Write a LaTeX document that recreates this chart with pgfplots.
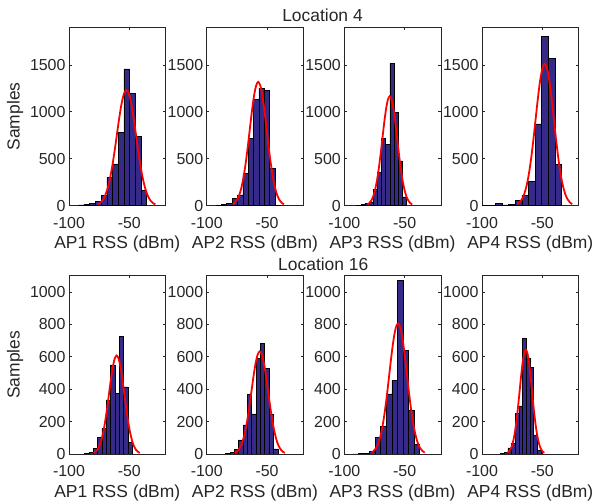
\documentclass[border=0pt]{standalone}
\usepackage{fontspec}
\setmainfont{Liberation Sans}
\usepackage{pgfplots}
\pgfplotsset{compat=1.18}
\definecolor{barblue}{RGB}{53,42,135}
\definecolor{axgray}{RGB}{38,38,38}
\pgfplotsset{
  hist/.style={
    scale only axis, width=96.5bp, height=178.4bp,
    xmin=-100, xmax=-20, ymin=0,
    xtick={-100,-50},
    tick align=inside,
    axis line style={draw=axgray, line width=0.6bp},
    every tick/.style={draw=axgray, line width=0.6bp},
    major tick length=2.5bp,
    tick label style={font=\fontsize{16}{19}\selectfont, text=axgray},
    xticklabel style={yshift=-8bp},
    label style={font=\fontsize{17.5}{21}\selectfont, text=axgray},
    xlabel style={yshift=-1bp},
    /pgf/number format/assume math mode=true,
    /pgf/number format/1000 sep={},
    scaled ticks=false,
  },
  toprow/.style={hist, ymax=1900, ytick={0,500,1000,1500}},
  botrow/.style={hist, ymax=1100, ytick={0,200,400,600,800,1000}},
  bars/.style={ybar interval, fill=barblue, draw=black, line width=0.5bp},
  fitc/.style={red, line width=1.8bp, smooth, mark=none},
}
\begin{document}
\begin{tikzpicture}[x=1bp,y=1bp]
\useasboundingbox (0,0) rectangle (594,501);
% ---------------- Location 4 ----------------
\begin{axis}[toprow, at={(69bp,295.3bp)}, anchor=south west, xlabel={AP1 RSS (dBm)}, ylabel={Samples}]
\addplot[bars] coordinates {(-92.3,8) (-87.6,16) (-82.9,27) (-78.1,48) (-73.4,108) (-68.7,302) (-64.0,445) (-59.3,777) (-54.6,1458) (-49.8,1199) (-45.1,740) (-40.4,160) (-35.7,0)};
\addplot[fitc] coordinates {(-76.4,13.7) (-74.4,28.1) (-72.4,54.1) (-70.4,98.1) (-68.4,166.7) (-66.4,266.5) (-64.4,400.0) (-62.4,564.0) (-60.4,747.2) (-58.4,929.9) (-56.4,1087.2) (-54.4,1194.1) (-52.4,1232) (-50.4,1194.1) (-48.4,1087.2) (-46.4,929.9) (-44.4,747.2) (-42.4,564.0) (-40.4,400.0) (-38.4,266.5) (-36.4,166.7) (-34.4,98.1) (-32.4,54.1) (-30.4,28.1) (-28.4,13.7)};
\end{axis}
\begin{axis}[toprow, at={(206.7bp,295.3bp)}, anchor=south west, xlabel={AP2 RSS (dBm)}]
\addplot[bars] coordinates {(-92.3,5) (-87.8,15) (-83.4,25) (-78.9,75) (-74.5,115) (-70.0,345) (-65.6,717) (-61.1,1132) (-56.7,1250) (-52.2,1225) (-47.8,397) (-43.3,4) (-38.8,0)};
\addplot[fitc] coordinates {(-78.6,14.6) (-76.825,30.1) (-75.05,57.9) (-73.275,104.9) (-71.5,178.3) (-69.725,285.1) (-67.95,428.0) (-66.175,603.4) (-64.4,799.4) (-62.625,994.8) (-60.85,1163.1) (-59.075,1277.4) (-57.3,1318) (-55.525,1277.4) (-53.75,1163.1) (-51.975,994.8) (-50.2,799.4) (-48.425,603.4) (-46.65,428.0) (-44.875,285.1) (-43.1,178.3) (-41.325,104.9) (-39.55,57.9) (-37.775,30.1) (-36.0,14.6)};
\end{axis}
\begin{axis}[toprow, at={(344.3bp,295.3bp)}, anchor=south west, xlabel={AP3 RSS (dBm)}]
\addplot[bars] coordinates {(-89.8,5) (-86.35,12) (-82.9,25) (-79.45,40) (-76.0,175) (-72.55,352) (-69.1,720) (-65.65,655) (-62.2,1518) (-58.75,995) (-55.3,476) (-51.85,94) (-48.4,0)};
\addplot[fitc] coordinates {(-80.9,12.9) (-79.35,26.6) (-77.8,51.2) (-76.25,92.8) (-74.7,157.8) (-73.15,252.2) (-71.6,378.6) (-70.05,533.8) (-68.5,707.2) (-66.95,880.1) (-65.4,1029.0) (-63.85,1130.1) (-62.3,1166) (-60.75,1130.1) (-59.2,1029.0) (-57.65,880.1) (-56.1,707.2) (-54.55,533.8) (-53.0,378.6) (-51.45,252.2) (-49.9,157.8) (-48.35,92.8) (-46.8,51.2) (-45.25,26.6) (-43.7,12.9)};
\end{axis}
\begin{axis}[toprow, at={(482bp,295.3bp)}, anchor=south west, xlabel={AP4 RSS (dBm)}]
\addplot[bars] coordinates {(-100,4) (-94.5,3) (-89.0,25) (-83.5,10) (-78.0,12) (-72.5,55) (-67.0,110) (-61.5,258) (-56.0,872) (-50.5,1805) (-45.0,1570) (-39.5,440) (-34.0,0)};
\addplot[fitc] coordinates {(-70.8,16.8) (-68.9,34.5) (-67.0,66.4) (-65.1,120.4) (-63.2,204.6) (-61.3,327.0) (-59.4,490.9) (-57.5,692.2) (-55.6,917.0) (-53.7,1141.3) (-51.8,1334.3) (-49.9,1465.4) (-48.0,1512) (-46.1,1465.4) (-44.2,1334.3) (-42.3,1141.3) (-40.4,917.0) (-38.5,692.2) (-36.6,490.9) (-34.7,327.0) (-32.8,204.6) (-30.9,120.4) (-29.0,66.4) (-27.1,34.5) (-25.2,16.8)};
\end{axis}
% ---------------- Location 16 ----------------
\begin{axis}[botrow, at={(69bp,47bp)}, anchor=south west, xlabel={AP1 RSS (dBm)}, ylabel={Samples}]
\addplot[bars] coordinates {(-87.2,3) (-83.6,12) (-80.0,35) (-76.4,103) (-72.8,160) (-69.2,333) (-65.6,550) (-62.0,375) (-58.4,727) (-54.8,414) (-51.2,72) (-47.6,0)};
\addplot[fitc] coordinates {(-79.7,6.7) (-78.1,13.8) (-76.5,26.6) (-74.9,48.3) (-73.3,82.1) (-71.7,131.3) (-70.1,197.1) (-68.5,277.9) (-66.9,368.1) (-65.3,458.2) (-63.7,535.7) (-62.1,588.3) (-60.5,607) (-58.9,588.3) (-57.3,535.7) (-55.7,458.2) (-54.1,368.1) (-52.5,277.9) (-50.9,197.1) (-49.3,131.3) (-47.7,82.1) (-46.1,48.3) (-44.5,26.6) (-42.9,13.8) (-41.3,6.7)};
\end{axis}
\begin{axis}[botrow, at={(206.7bp,47bp)}, anchor=south west, xlabel={AP2 RSS (dBm)}]
\addplot[bars] coordinates {(-84.3,3) (-80.7,8) (-77.1,29) (-73.5,87) (-69.9,180) (-66.3,369) (-62.7,247) (-59.1,588) (-55.5,684) (-51.9,528) (-48.3,247) (-44.7,31) (-41.1,0)};
\addplot[fitc] coordinates {(-76.85,7.0) (-75.11,14.4) (-73.38,27.8) (-71.64,50.4) (-69.9,85.6) (-68.16,136.9) (-66.43,205.5) (-64.69,289.8) (-62.95,383.9) (-61.21,477.8) (-59.48,558.6) (-57.74,613.5) (-56.0,633) (-54.26,613.5) (-52.53,558.6) (-50.79,477.8) (-49.05,383.9) (-47.31,289.8) (-45.58,205.5) (-43.84,136.9) (-42.1,85.6) (-40.36,50.4) (-38.63,27.8) (-36.89,14.4) (-35.15,7.0)};
\end{axis}
\begin{axis}[botrow, at={(344.3bp,47bp)}, anchor=south west, xlabel={AP3 RSS (dBm)}]
\addplot[bars] coordinates {(-92.8,1) (-88.2,2) (-83.6,6) (-79.0,14) (-74.4,101) (-69.8,169) (-65.2,371) (-60.6,456) (-56.0,1072) (-51.4,637) (-46.8,270) (-42.2,58) (-37.6,0)};
\addplot[fitc] coordinates {(-77.45,8.9) (-75.61,18.4) (-73.78,35.3) (-71.94,64.1) (-70.1,108.9) (-68.26,174.1) (-66.43,261.4) (-64.59,368.5) (-62.75,488.2) (-60.91,607.6) (-59.08,710.4) (-57.24,780.2) (-55.4,805) (-53.56,780.2) (-51.73,710.4) (-49.89,607.6) (-48.05,488.2) (-46.21,368.5) (-44.38,261.4) (-42.54,174.1) (-40.7,108.9) (-38.86,64.1) (-37.03,35.3) (-35.19,18.4) (-33.35,8.9)};
\end{axis}
\begin{axis}[botrow, at={(482bp,47bp)}, anchor=south west, xlabel={AP4 RSS (dBm)}]
\addplot[bars] coordinates {(-84.7,3) (-81.65,10) (-78.6,38) (-75.55,66) (-72.5,252) (-69.45,297) (-66.4,715) (-63.35,592) (-60.3,532) (-57.25,114) (-54.2,24) (-51.15,0)};
\addplot[fitc] coordinates {(-79.0,7.1) (-77.725,14.7) (-76.45,28.2) (-75.175,51.2) (-73.9,87.0) (-72.625,139.1) (-71.35,208.8) (-70.075,294.4) (-68.8,390.0) (-67.525,485.3) (-66.25,567.4) (-64.975,623.2) (-63.7,643) (-62.425,623.2) (-61.15,567.4) (-59.875,485.3) (-58.6,390.0) (-57.325,294.4) (-56.05,208.8) (-54.775,139.1) (-53.5,87.0) (-52.225,51.2) (-50.95,28.2) (-49.675,14.7) (-48.4,7.1)};
\end{axis}
\node[font=\fontsize{17.5}{21}\selectfont, text=axgray] at (322.5,486) {Location 4};
\node[font=\fontsize{17.5}{21}\selectfont, text=axgray] at (323.3,237) {Location 16};
\end{tikzpicture}
\end{document}
